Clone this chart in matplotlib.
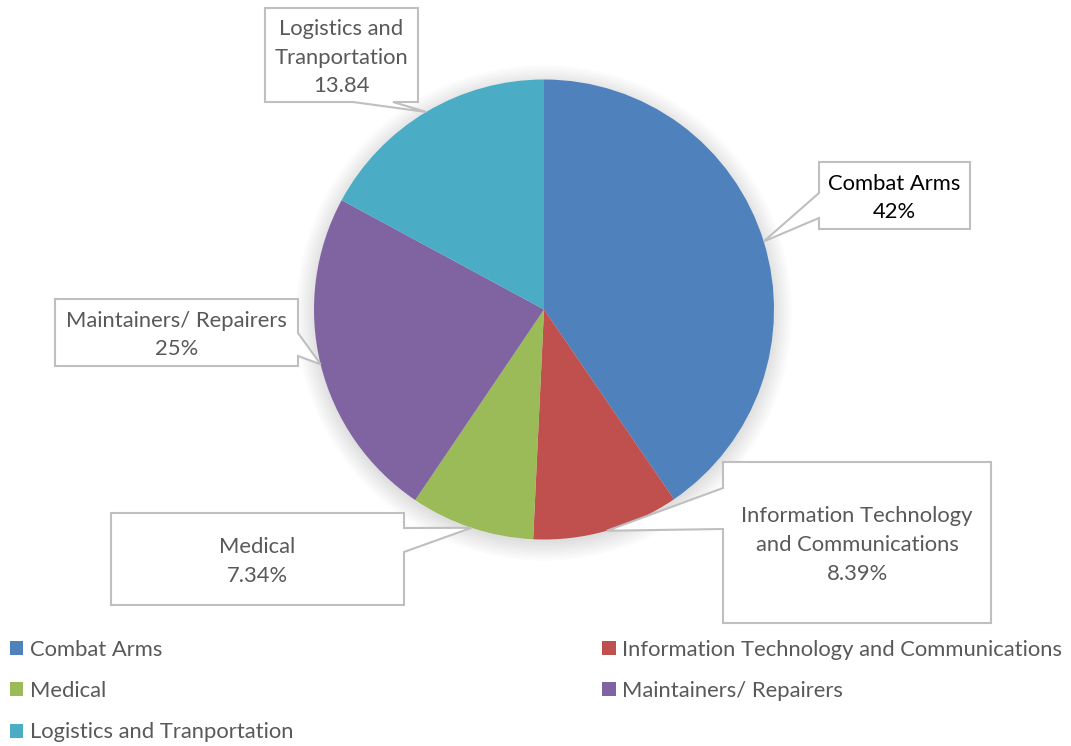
import numpy as np
import matplotlib
matplotlib.use("Agg")
import matplotlib.pyplot as plt
from matplotlib.patches import Polygon, Circle

# data
categories = ["Combat Arms", "Information Technology and Communications",
              "Medical", "Maintainers/ Repairers", "Logistics and Tranportation"]
shares = [40.4, 10.3, 8.7, 23.4, 17.1]
label_texts = ["Combat Arms\n42%", "Information Technology\nand Communications\n8.39%",
               "Medical\n7.34%", "Maintainers/ Repairers\n25%",
               "Logistics and\nTranportation\n13.84"]
colors = ["#4F81BD", "#C0504D", "#9BBB59", "#8064A2", "#4BACC6"]

plt.rcParams['font.family'] = ['Lato', 'DejaVu Sans']

W, H = 1071, 746
CX, CY, R = 544, 309.5, 230.0
FS = 15.8


def px(x, y):
    # pixel (top-left origin) -> data units (pie radius = 1)
    return ((x - CX) / R, (CY - y) / R)


fig = plt.figure(figsize=(W / 100, H / 100), dpi=100)
ax = fig.add_axes([0, 0, 1, 1])

# soft shadow behind the pie
for k in range(8):
    ax.add_patch(Circle((0.0, -0.015), 1.0 + 0.011 * k, color='black',
                        alpha=0.015, lw=0, zorder=0))

wedges, _ = ax.pie(shares, colors=colors, startangle=90, counterclock=False,
                   radius=1.0, wedgeprops=dict(linewidth=0, zorder=2))

ax.set_xlim(-CX / R, (W - CX) / R)
ax.set_ylim(-(H - CY) / R, CY / R)
ax.set_aspect('equal')
ax.axis('off')

# callout boxes: (x0, y0, x1, y1) in pixels, side of the pointer, pointer base
boxes = [(819, 162, 970, 229), (723, 462, 991, 623), (111, 513, 404, 605),
         (55, 299, 298, 366), (265, 8, 418, 102)]
sides = ["left", "left", "right", "right", "bottom"]
bases = [(193, 218), (488, 529), (528, 552), (333, 356), (353, 393)]
text_colors = ["#000000", "#595959", "#595959", "#595959", "#595959"]


def callout(box, side, base, tip):
    x0, y0, x1, y1 = box
    b0, b1 = base
    pts = [(x0, y0)]
    if side == "top":
        pts += [(b0, y0), None, (b1, y0)]
    pts.append((x1, y0))
    if side == "right":
        pts += [(x1, b0), None, (x1, b1)]
    pts.append((x1, y1))
    if side == "bottom":
        pts += [(b1, y1), None, (b0, y1)]
    pts.append((x0, y1))
    if side == "left":
        pts += [(x0, b1), None, (x0, b0)]
    return [tip if p is None else px(*p) for p in pts]


for w, box, side, base, txt, tc in zip(wedges, boxes, sides, bases,
                                       label_texts, text_colors):
    mid = np.deg2rad((w.theta1 + w.theta2) / 2)
    tip = (np.cos(mid), np.sin(mid))
    poly = Polygon(callout(box, side, base, tip), closed=True, facecolor='white',
                   edgecolor='#BFBFBF', linewidth=1.5, zorder=3)
    ax.add_patch(poly)
    cx, cy = px((box[0] + box[2]) / 2, (box[1] + box[3]) / 2 + 2.5)
    ax.text(cx, cy, txt, ha='center', va='center', fontsize=FS, color=tc,
            linespacing=1.55, zorder=4)

order = [0, 2, 4, 1, 3]
leg = ax.legend([wedges[i] for i in order], [categories[i] for i in order],
                ncol=2, loc='upper left', bbox_to_anchor=(1 / W, 1 - 631 / H),
                frameon=False, fontsize=FS, handlelength=0.6, handleheight=0.6,
                handletextpad=0.3, labelspacing=0.97, columnspacing=14.1,
                borderaxespad=0)
for t in leg.get_texts():
    t.set_color('#595959')

fig.savefig("out.png", dpi=100)
